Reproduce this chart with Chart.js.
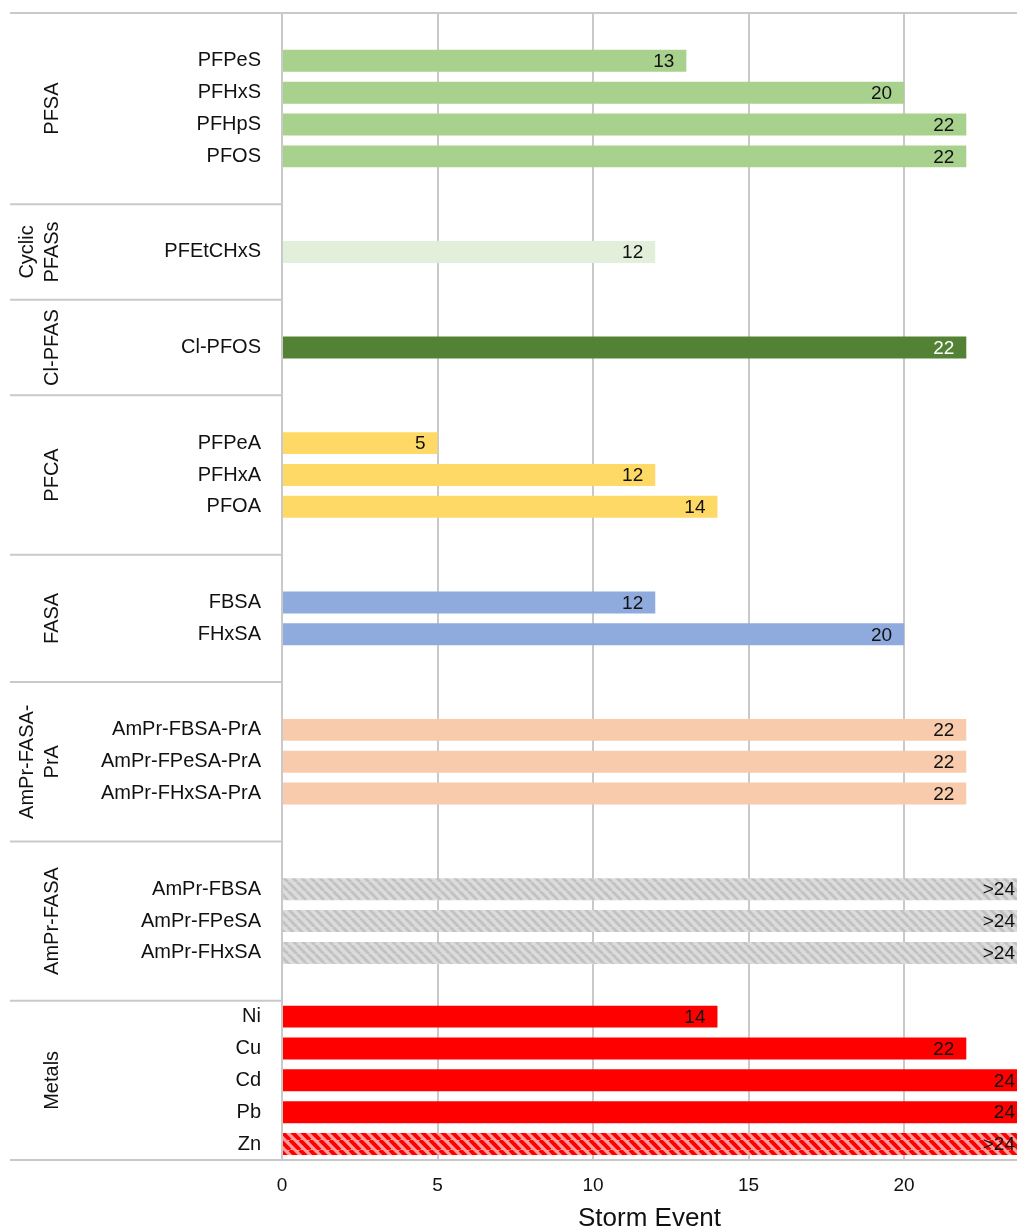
<!DOCTYPE html>
<html lang="en">
  <head>
    <meta charset="utf-8">
    <title>Storm event chart</title>
    <style>
      body { margin: 0; background: #fff; }
    </style>
  </head>
  <body>
    <canvas id="myChart" width="1017" height="1232"></canvas>

    <script src="https://cdn.jsdelivr.net/npm/chart.js"></script>

    <script>
      // one slot per row, empty slots keep the gaps between the groups
      var compounds = [
        "", "PFPeS", "PFHxS", "PFHpS", "PFOS", "",
        "", "PFEtCHxS", "",
        "", "Cl-PFOS", "",
        "", "PFPeA", "PFHxA", "PFOA", "",
        "", "FBSA", "FHxSA", "",
        "", "AmPr-FBSA-PrA", "AmPr-FPeSA-PrA", "AmPr-FHxSA-PrA", "",
        "", "AmPr-FBSA", "AmPr-FPeSA", "AmPr-FHxSA", "",
        "Ni", "Cu", "Cd", "Pb", "Zn"
      ];
      var stormEvents = [
        null, 13, 20, 22, 22, null,
        null, 12, null,
        null, 22, null,
        null, 5, 12, 14, null,
        null, 12, 20, null,
        null, 22, 22, 22, null,
        null, 24, 24, 24, null,
        14, 22, 24, 24, 24
      ];
      var valueLabels = [
        "", "13", "20", "22", "22", "",
        "", "12", "",
        "", "22", "",
        "", "5", "12", "14", "",
        "", "12", "20", "",
        "", "22", "22", "22", "",
        "", ">24", ">24", ">24", "",
        "14", "22", "24", "24", ">24"
      ];
      var groupNames = [["PFSA"], ["Cyclic", "PFASs"], ["Cl-PFAS"], ["PFCA"], ["FASA"], ["AmPr-FASA-", "PrA"], ["AmPr-FASA"], ["Metals"]];
      var groupSizes = [6, 3, 3, 5, 4, 5, 5, 5];
      var xTicks = [0, 5, 10, 15, 20];

      var groupColors = ["#a9d18e", "#e2efda", "#548235", "#ffd966", "#8faadc", "#f8cbad", "#d9d9d9", "#ff0000"];
      var lineColor = "#c9c9c9";
      var font = "'Liberation Sans', Arial, sans-serif";

      const canvas = document.getElementById("myChart");
      const ctx = canvas.getContext("2d");

      function hatch(bg, fg, size, width) {
        var c = document.createElement("canvas");
        c.width = size;
        c.height = size;
        var g = c.getContext("2d");
        g.fillStyle = bg;
        g.fillRect(0, 0, size, size);
        g.strokeStyle = fg;
        g.lineWidth = width;
        [-size, 0, size].forEach(function (x0) {
          g.beginPath();
          g.moveTo(x0, 0);
          g.lineTo(x0 + size, size);
          g.stroke();
        });
        return ctx.createPattern(c, "repeat");
      }
      var hatches = { 6: hatch("#dcdcdc", "#c2c2c2", 9, 3), 7: hatch("#ff9c9c", "#ff0000", 10, 4) };

      // group index for each slot
      var slotGroup = [];
      groupSizes.forEach(function (n, g) {
        for (var i = 0; i < n; i++) slotGroup.push(g);
      });
      var barColors = slotGroup.map(function (g, i) {
        if (valueLabels[i].charAt(0) === ">" && hatches[g]) return hatches[g];
        return groupColors[g];
      });

      const extras = {
        id: "extras",
        afterDatasetsDraw: function (chart) {
          var c = chart.ctx, area = chart.chartArea;
          var bars = chart.getDatasetMeta(0).data;
          c.save();
          c.font = "19px " + font;
          c.textAlign = "right";
          c.textBaseline = "middle";
          bars.forEach(function (bar, i) {
            if (!valueLabels[i]) return;
            var right = Math.min(bar.x - 12, area.right - 2);
            c.fillStyle = slotGroup[i] === 2 ? "#ffffff" : "#111111";
            c.fillText(valueLabels[i], right, bar.y + 1);
          });
          c.restore();
        },
        afterDraw: function (chart) {
          var c = chart.ctx, area = chart.chartArea, y = chart.scales.y;
          var slot = (area.bottom - area.top) / compounds.length;
          c.save();
          c.strokeStyle = lineColor;
          c.lineWidth = 2;
          c.beginPath();
          c.moveTo(10, area.top);
          c.lineTo(area.right, area.top);
          c.moveTo(10, area.bottom);
          c.lineTo(area.right, area.bottom);
          c.stroke();
          var start = 0;
          c.font = "20px " + font;
          c.fillStyle = "#111111";
          c.textAlign = "center";
          c.textBaseline = "middle";
          groupSizes.forEach(function (n, g) {
            var top = y.getPixelForValue(start) - slot / 2;
            var bottom = y.getPixelForValue(start + n - 1) + slot / 2;
            if (g > 0) {
              c.beginPath();
              c.moveTo(10, top);
              c.lineTo(area.left, top);
              c.stroke();
            }
            var lines = groupNames[g];
            lines.forEach(function (txt, k) {
              var x = lines.length === 1 ? 52 : 27 + k * 25;
              c.save();
              c.translate(x, (top + bottom) / 2);
              c.rotate(-Math.PI / 2);
              c.fillText(txt, 0, 0);
              c.restore();
            });
            start += n;
          });
          c.restore();
        }
      };

      new Chart(ctx, {
        type: "bar",
        data: {
          labels: compounds,
          datasets: [
            {
              data: stormEvents,
              backgroundColor: barColors,
              borderWidth: 0,
              barPercentage: 0.69,
              categoryPercentage: 1,
            },
          ],
        },
        options: {
          indexAxis: "y",
          responsive: false,
          animation: false,
          layout: { padding: { top: 13, right: 0, bottom: 0, left: 0 } },
          plugins: { legend: { display: false }, tooltip: { enabled: false } },
          scales: {
            y: {
              offset: true,
              grid: { display: false, drawTicks: false },
              border: { display: true, color: lineColor, width: 2 },
              ticks: {
                padding: 21,
                autoSkip: false,
                color: "#111111",
                font: { family: font, size: 20 },
              },
              afterFit: function (scale) {
                scale.width = 282;
                scale.paddingTop = 0;
                scale.paddingBottom = 0;
              },
            },
            x: {
              min: 0,
              max: 23.63,
              afterBuildTicks: function (scale) {
                scale.ticks = xTicks.map(function (v) { return { value: v }; });
              },
              afterFit: function (scale) {
                scale.height = 72;
                scale.paddingLeft = 0;
                scale.paddingRight = 0;
              },
              grid: { color: lineColor, lineWidth: 2, drawTicks: false },
              border: { display: false },
              ticks: {
                padding: 16,
                color: "#111111",
                font: { family: font, size: 19, lineHeight: 1 },
              },
              title: {
                display: true,
                text: "Storm Event",
                color: "#111111",
                font: { family: font, size: 26, lineHeight: 1 },
                padding: { top: 6, bottom: 0 },
              },
            },
          },
        },
        plugins: [extras],
      });
    </script>
  </body>
</html>
